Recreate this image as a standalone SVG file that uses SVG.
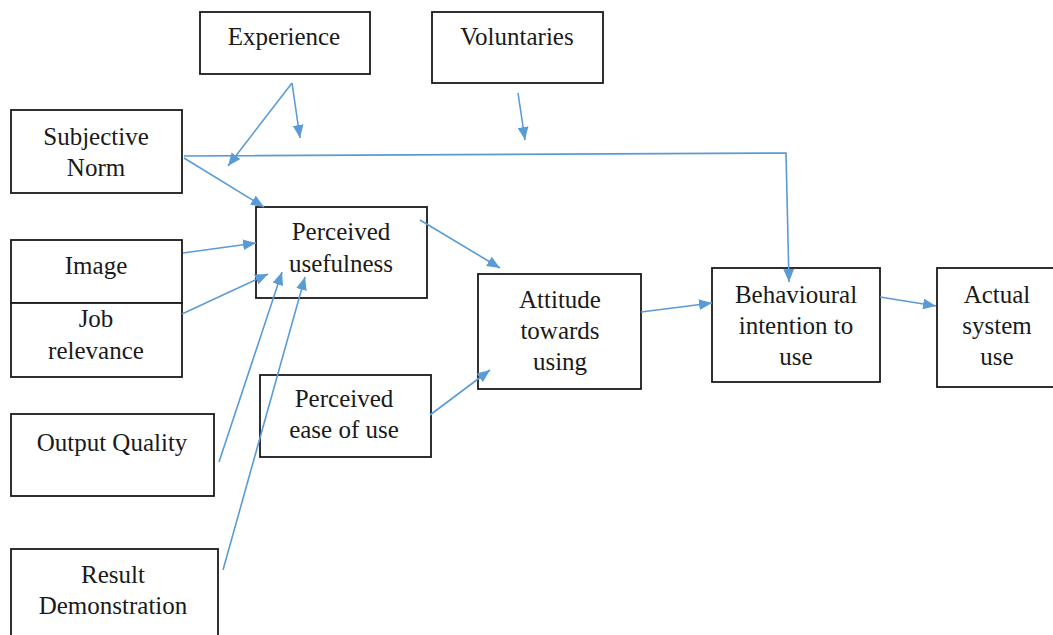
<svg xmlns="http://www.w3.org/2000/svg" width="1053" height="635" viewBox="0 0 1053 635">
<style>
.box{fill:#fff;stroke:#1a1a1a;stroke-width:1.8}
.t{font-family:"Liberation Serif","Times New Roman",serif;font-size:25px;fill:#1a1a1a;text-anchor:middle}
.c{fill:none;stroke:#5B9BD5;stroke-width:1.6;marker-end:url(#ah)}
</style>
<defs>
<marker id="ah" viewBox="0 0 12 10" refX="12" refY="5" markerWidth="13" markerHeight="11" markerUnits="userSpaceOnUse" orient="auto">
<path d="M0,0 L12,5 L0,10 z" fill="#5B9BD5"/>
</marker>
</defs>
<rect width="1053" height="635" fill="#fff"/>
<g id="experience"><rect class="box" x="200" y="12" width="170" height="62"/><text class="t" x="284" y="45">Experience</text></g>
<g id="voluntaries"><rect class="box" x="432" y="12" width="171" height="71"/><text class="t" x="517" y="45">Voluntaries</text></g>
<g id="subjective-norm"><rect class="box" x="11" y="110" width="171" height="83"/><text class="t" x="96" y="145">Subjective</text><text class="t" x="96" y="176">Norm</text></g>
<g id="image"><rect class="box" x="11" y="240" width="171" height="63"/><text class="t" x="96" y="274">Image</text></g>
<g id="job-relevance"><rect class="box" x="11" y="303" width="171" height="74"/><text class="t" x="96" y="327">Job</text><text class="t" x="96" y="359">relevance</text></g>
<g id="output-quality"><rect class="box" x="11" y="414" width="203" height="82"/><text class="t" x="112" y="451">Output Quality</text></g>
<g id="result-demonstration"><rect class="box" x="11" y="549" width="207" height="95"/><text class="t" x="113" y="583">Result</text><text class="t" x="113" y="614">Demonstration</text></g>
<g id="perceived-usefulness"><rect class="box" x="256" y="207" width="171" height="91"/><text class="t" x="341" y="240">Perceived</text><text class="t" x="341" y="272">usefulness</text></g>
<g id="perceived-ease"><rect class="box" x="260" y="375" width="171" height="82"/><text class="t" x="344" y="407">Perceived</text><text class="t" x="344" y="438">ease of use</text></g>
<g id="attitude"><rect class="box" x="478" y="274" width="163" height="115"/><text class="t" x="560" y="308">Attitude</text><text class="t" x="560" y="339">towards</text><text class="t" x="560" y="370">using</text></g>
<g id="behavioural-intention"><rect class="box" x="712" y="268" width="168" height="114"/><text class="t" x="796" y="303">Behavioural</text><text class="t" x="796" y="334">intention to</text><text class="t" x="796" y="365">use</text></g>
<g id="actual-use"><rect class="box" x="937" y="268" width="130" height="119"/><text class="t" x="997" y="303">Actual</text><text class="t" x="997" y="334">system</text><text class="t" x="997" y="365">use</text></g>
<g id="connectors">
<path class="c" d="M292,83 L228,166"/>
<path class="c" d="M292,83 L300,138"/>
<path class="c" d="M518,93 L525,140"/>
<path class="c" d="M184,156 L786,153 L789,282"/>
<path class="c" d="M184,158 L264,207"/>
<path class="c" d="M183,253 L256,243"/>
<path class="c" d="M182,314 L268,274"/>
<path class="c" d="M219,462 L282,272"/>
<path class="c" d="M223,570 L305,277"/>
<path class="c" d="M420,220 L500,268"/>
<path class="c" d="M430,415 L490,370"/>
<path class="c" d="M641,312 L712,303"/>
<path class="c" d="M880,297 L936,306"/>
</g>
</svg>
